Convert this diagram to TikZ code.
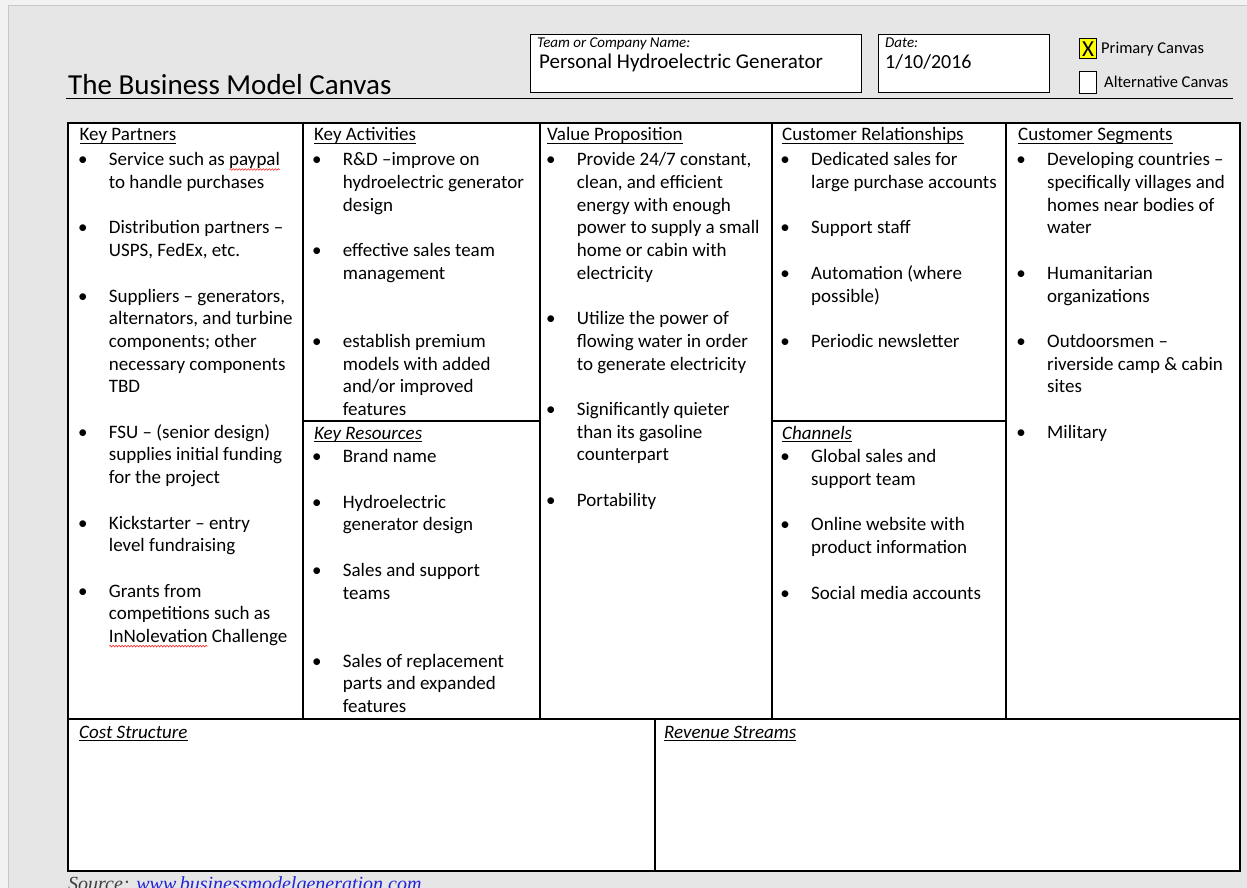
\documentclass[tikz,border=0pt]{standalone}
\usepackage{fontspec}
\setmainfont{Carlito}
\newfontfamily\srcfont{Liberation Serif}
\usetikzlibrary{decorations.pathmorphing}
\definecolor{pagegray}{HTML}{E6E6E6}
\definecolor{outergray}{HTML}{F2F2F2}
\definecolor{framegray}{HTML}{C8C8C8}
\definecolor{linkblue}{HTML}{2323D8}
\definecolor{srcgray}{HTML}{404040}
\definecolor{chkyellow}{HTML}{FFFF00}
\newlength{\spw}
\newcommand{\bl}[1]{\strut\makebox[26pt][l]{\makebox[0pt][c]{\textbullet}}#1}
\newcommand{\cl}[1]{\strut\hspace*{26pt}#1}
\newcommand{\hul}[1]{{\setbox0\hbox{#1}\rlap{\rule[-2.4pt]{\wd0}{0.9pt}}\box0}}
\newcommand{\spell}[1]{\settowidth{\spw}{#1}\rlap{\raisebox{-3.6pt}{\tikz[baseline=0pt,x=1pt,y=1pt]\draw[red, line width=0.5pt, decorate, decoration={snake, amplitude=0.8pt, segment length=3pt}] (0pt,0pt) -- (\spw,0pt);}}#1}
\tikzset{
  box/.style={draw, fill=white, line width=1.3pt, inner sep=0pt, anchor=north west},
  gridline/.style={line width=1.8pt},
  head/.style={anchor=base west, inner sep=0pt, font=\fontsize{19}{22.7}\selectfont},
  ihead/.style={anchor=base west, inner sep=0pt, font=\fontsize{19}{22.7}\selectfont\itshape},
  body/.style={anchor=north west, inner sep=0pt, align=left, font=\fontsize{19}{22.7}\selectfont},
  small/.style={anchor=base west, inner sep=0pt},
}
\begin{document}
\begin{tikzpicture}[x=1pt,y=-1pt]
\useasboundingbox (0,0) rectangle (1247,888);
\fill[outergray] (0,0) rectangle (1247,888);
\fill[pagegray] (8,5) rectangle (1247,888);
\draw[framegray, line width=0.8pt] (8,888) -- (8,5) -- (1247,5);

% header
\node[small, font=\fontsize{29}{33}\selectfont] (title) at (68,94.5) {The Business Model Canvas};
\draw[line width=1.6pt] (66,98.5) -- (1233,98.5);

\node[box, minimum width=331pt, minimum height=58pt] (team) at (530,34) {};
\node[small, font=\fontsize{15}{17}\selectfont\itshape] (teamlbl) at (537,47.5) {Team or Company Name:};
\node[small, font=\fontsize{21}{24}\selectfont] (teamname) at (539,68.5) {Personal Hydroelectric Generator};

\node[box, minimum width=171pt, minimum height=58pt] (date) at (878,34) {};
\node[small, font=\fontsize{15}{17}\selectfont\itshape] (datelbl) at (885,47.5) {Date:};
\node[small, font=\fontsize{20}{24}\selectfont] (dateval) at (885,68.5) {1/10/2016};

\node[box, fill=chkyellow, minimum width=17pt, minimum height=20pt, font=\fontsize{23}{24}\selectfont] (chk) at (1079,38) {X};
\node[small, font=\fontsize{16.5}{18}\selectfont] (prim) at (1101,54) {Primary Canvas};
\node[box, minimum width=17pt, minimum height=22pt] (alt) at (1079,71) {};
\node[small, font=\fontsize{16.5}{18}\selectfont] (altlbl) at (1104,88) {Alternative Canvas};

% grid
\fill[white] (68,123) rectangle (1240,871);
\draw[gridline] (68,123) rectangle (1240,871);
\draw[gridline] (303,123) -- (303,719);
\draw[gridline] (540,123) -- (540,719);
\draw[gridline] (772,123) -- (772,719);
\draw[gridline] (1006,123) -- (1006,719);
\draw[gridline] (68,719) -- (1240,719);
\draw[gridline] (303,421) -- (540,421);
\draw[gridline] (772,421) -- (1006,421);
\draw[gridline] (655,719) -- (655,871);

% headers
\node[head] (hkp) at (79.5,141) {\hul{Key Partners}};
\node[head] (hka) at (314,141) {\hul{Key Activities}};
\node[head] (hvp) at (547,141) {\hul{Value Proposition}};
\node[head] (hcr) at (782,141) {\hul{Customer Relationships}};
\node[head] (hcs) at (1018,141) {\hul{Customer Segments}};
\node[ihead] (hkr) at (314,439) {\hul{Key Resources}};
\node[ihead] (hch) at (782,439) {\hul{Channels}};
\node[ihead] (hcost) at (79,738) {\hul{Cost Structure}};
\node[ihead] (hrev) at (664,738) {\hul{Revenue Streams}};

% bodies
\node[body] (kp) at (82.7,149.8) {%
\bl{Service such as \spell{paypal}}\\
\cl{to handle purchases}\\
\strut\\
\bl{Distribution partners –}\\
\cl{USPS, FedEx, etc.}\\
\strut\\
\bl{Suppliers – generators,}\\
\cl{alternators, and turbine}\\
\cl{components; other}\\
\cl{necessary components}\\
\cl{TBD}\\
\strut\\
\bl{FSU – (senior design)}\\
\cl{supplies initial funding}\\
\cl{for the project}\\
\strut\\
\bl{Kickstarter – entry}\\
\cl{level fundraising}\\
\strut\\
\bl{Grants from}\\
\cl{competitions such as}\\
\cl{\spell{InNolevation} Challenge}};

\node[body] (ka) at (316.7,149.8) {%
\bl{R\&D –improve on}\\
\cl{hydroelectric generator}\\
\cl{design}\\
\strut\\
\bl{effective sales team}\\
\cl{management}\\
\strut\\
\strut\\
\bl{establish premium}\\
\cl{models with added}\\
\cl{and/or improved}\\
\cl{features}};

\node[body] (kr) at (316.7,446.8) {%
\bl{Brand name}\\
\strut\\
\bl{Hydroelectric}\\
\cl{generator design}\\
\strut\\
\bl{Sales and support}\\
\cl{teams}\\
\strut\\
\strut\\
\bl{Sales of replacement}\\
\cl{parts and expanded}\\
\cl{features}};

\node[body] (vp) at (550.7,149.8) {%
\bl{Provide 24/7 constant,}\\
\cl{clean, and efficient}\\
\cl{energy with enough}\\
\cl{power to supply a small}\\
\cl{home or cabin with}\\
\cl{electricity}\\
\strut\\
\bl{Utilize the power of}\\
\cl{flowing water in order}\\
\cl{to generate electricity}\\
\strut\\
\bl{Significantly quieter}\\
\cl{than its gasoline}\\
\cl{counterpart}\\
\strut\\
\bl{Portability}};

\node[body] (cr) at (785,149.8) {%
\bl{Dedicated sales for}\\
\cl{large purchase accounts}\\
\strut\\
\bl{Support staff}\\
\strut\\
\bl{Automation (where}\\
\cl{possible)}\\
\strut\\
\bl{Periodic newsletter}};

\node[body] (ch) at (785,446.8) {%
\bl{Global sales and}\\
\cl{support team}\\
\strut\\
\bl{Online website with}\\
\cl{product information}\\
\strut\\
\bl{Social media accounts}};

\node[body] (cs) at (1021,149.8) {%
\bl{Developing countries –}\\
\cl{specifically villages and}\\
\cl{homes near bodies of}\\
\cl{water}\\
\strut\\
\bl{Humanitarian}\\
\cl{organizations}\\
\strut\\
\bl{Outdoorsmen –}\\
\cl{riverside camp \& cabin}\\
\cl{sites}\\
\strut\\
\bl{Military}};

% source
\node[small, font=\srcfont\itshape\fontsize{20}{24}\selectfont] (src) at (68,890) {\textcolor{srcgray}{Source:} \textcolor{linkblue}{www.businessmodelgeneration.com}};
\end{tikzpicture}
\end{document}
